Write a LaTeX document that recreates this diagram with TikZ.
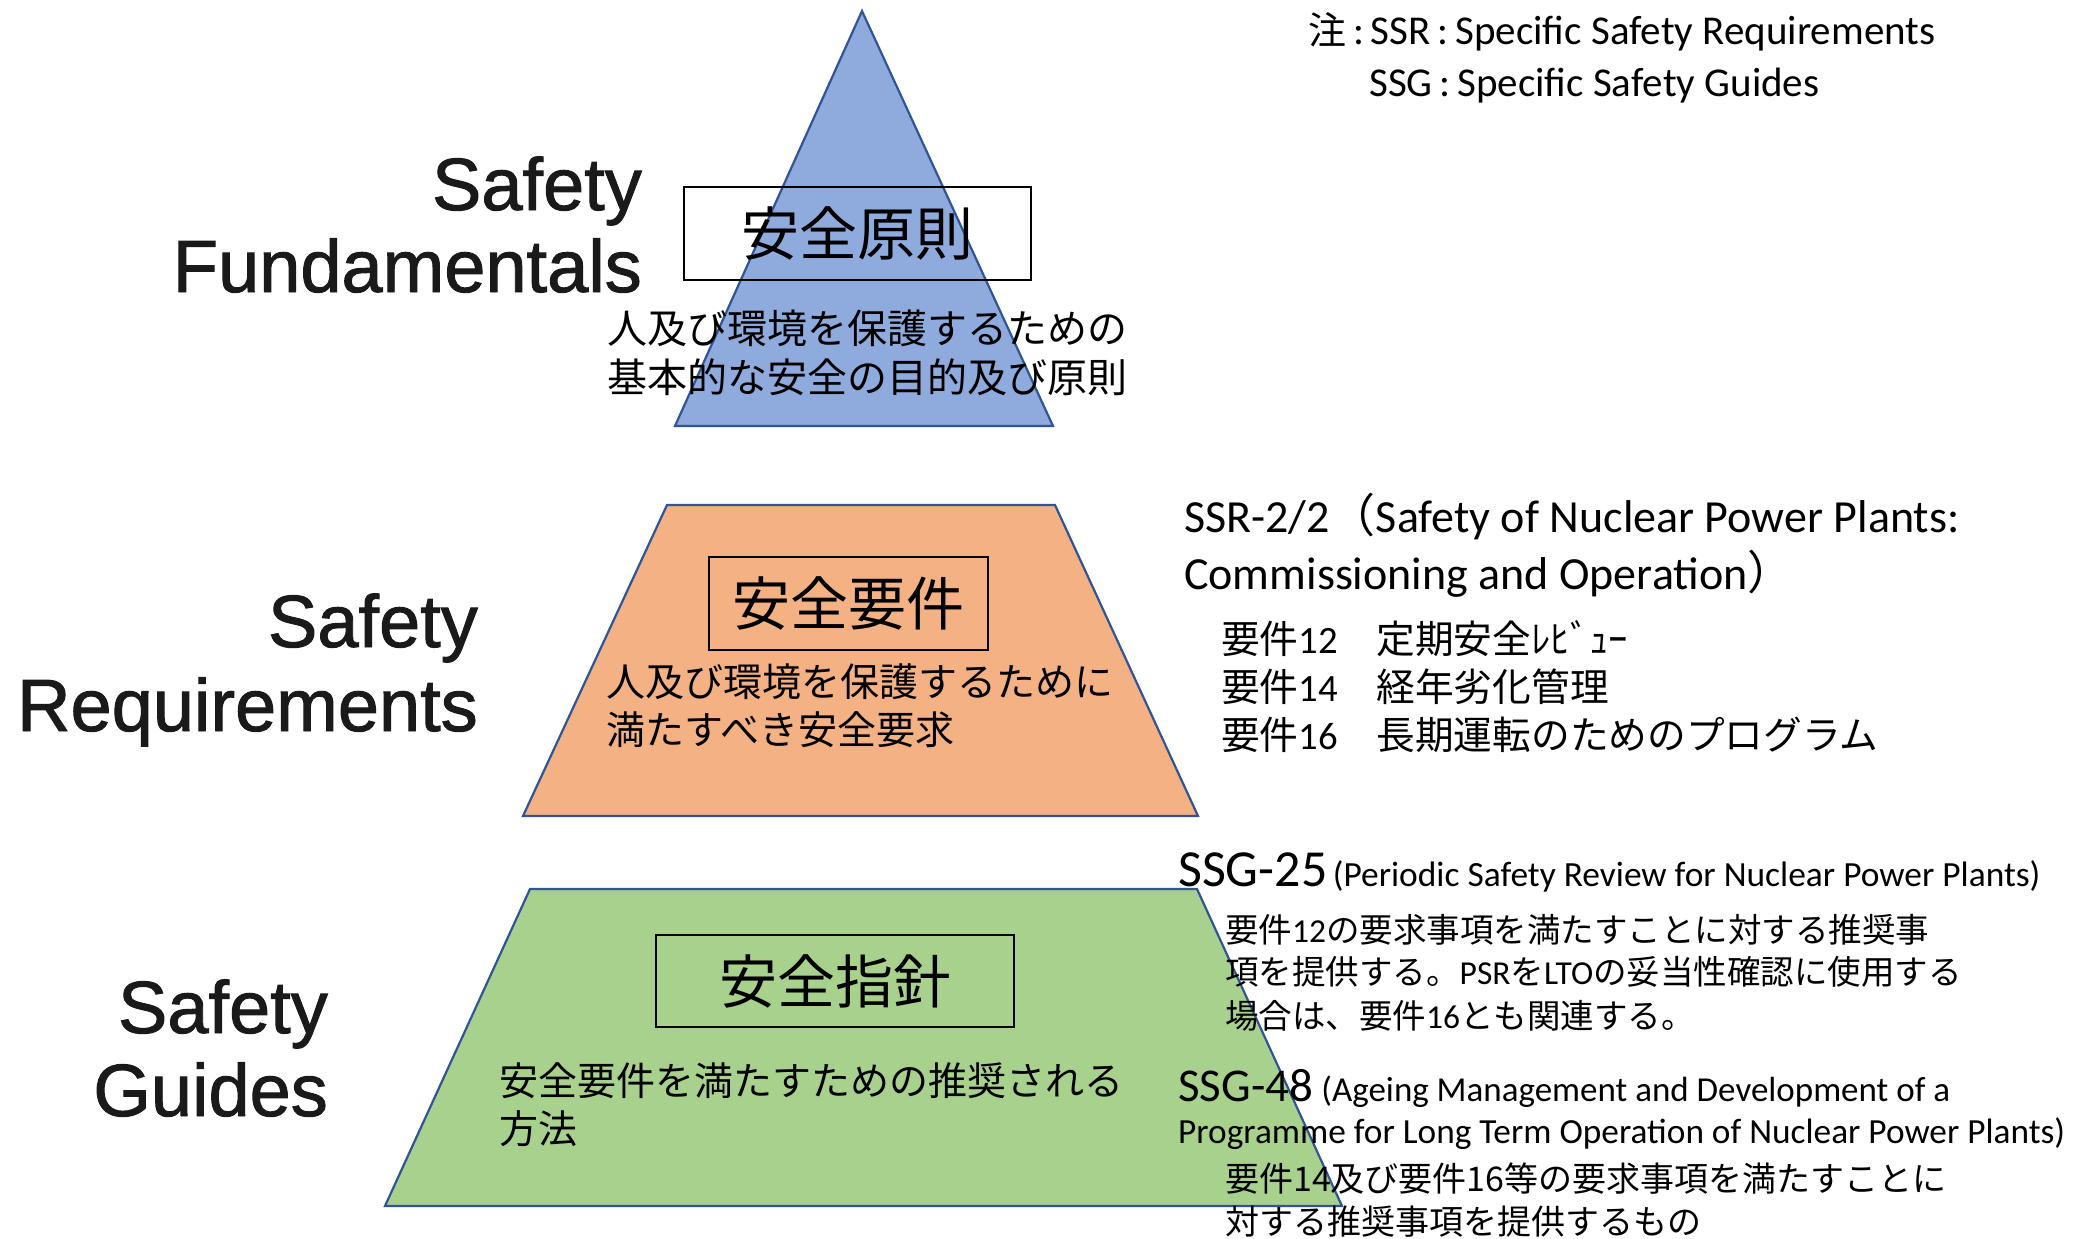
\documentclass[tikz,border=0pt]{standalone}
\usepackage{fontspec}
\setmainfont{Carlito}
\newfontfamily\jp{Noto Sans CJK JP}
\newfontfamily\hel[FakeBold=1.3]{Liberation Sans}
\definecolor{triblue}{HTML}{8FAADC}
\definecolor{edgeblue}{HTML}{2F5597}
\definecolor{orangefill}{HTML}{F4B183}
\definecolor{greenfill}{HTML}{A9D18E}
\definecolor{labelink}{HTML}{1A1A1A}
\newcommand\fs[1]{\fontsize{#1}{#1}\selectfont}
\newcommand\lt[1]{{\rmfamily #1}}
\begin{document}
\begin{tikzpicture}[x=1pt,y=-1pt,
  layer/.style={draw=edgeblue, line width=2.2pt, line join=miter},
  titlebox/.style={draw=black, line width=2pt, inner sep=0pt, font=\jp\fs{58}},
  body/.style={inner sep=0pt, anchor=base west, font=\jp\fs{40}},
  side/.style={inner sep=0pt, anchor=base east, font=\hel\fs{74}, text=labelink}]
\useasboundingbox (0,0) rectangle (2083,1239);

% pyramid layers
\filldraw[layer, fill=triblue] (862,11) -- (1053,426) -- (675,426) -- cycle;
\filldraw[layer, fill=orangefill] (667,505) -- (1055,505) -- (1198,816) -- (523,816) -- cycle;
\filldraw[layer, fill=greenfill] (530,889) -- (1197,889) -- (1342,1206) -- (385,1206) -- cycle;

% title boxes
\node[titlebox, minimum width=347pt, minimum height=93pt] (b1) at (857.5,233.5) {安全原則};
\node[titlebox, minimum width=279pt, minimum height=93pt] (b2) at (848.5,603.5) {安全要件};
\node[titlebox, minimum width=358pt, minimum height=92pt] (b3) at (835,981) {安全指針};

% left labels
\node[side] (sf1) at (642,210) {Safety};
\node[side] (sf2) at (642,292) {Fundamentals};
\node[side] (sr1) at (478,647) {Safety};
\node[side] (sr2) at (478,731) {Requirements};
\node[side] (sg1) at (328,1033) {Safety};
\node[side] (sg2) at (328,1116) {Guides};

% note
\node[body, font=\fs{41}] (note1) at (1308,45) {{\jp\fs{38}注}\,:\,SSR\,:\,Specific Safety Requirements};
\node[body, font=\fs{41}] (note2) at (1369,96) {SSG\,:\,Specific Safety Guides};

% layer descriptions
\node[body] (fd1) at (607,343) {人及び環境を保護するための};
\node[body] (fd2) at (607,392) {基本的な安全の目的及び原則};
\node[body, font=\jp\fs{39}] (rq1) at (606,696) {人及び環境を保護するために};
\node[body, font=\jp\fs{39}] (rq2) at (606,744) {満たすべき安全要求};
\node[body, font=\jp\fs{39}] (gd1) at (499,1095) {安全要件を満たすための推奨される};
\node[body, font=\jp\fs{39}] (gd2) at (499,1143) {方法};

% SSR-2/2
\node[body, font=\fs{46}] (ssr1) at (1184,532) {SSR-2/2{\jp （}Safety of Nuclear Power Plants:};
\node[body, font=\fs{46}] (ssr2) at (1184,589) {Commissioning and Operation{\jp ）}};
\node[body, font=\jp\fs{38.7}] (r12) at (1221,653) {要件\lt{12}　定期安全ﾚﾋﾞｭｰ};
\node[body, font=\jp\fs{38.7}] (r14) at (1221,701) {要件\lt{14}　経年劣化管理};
\node[body, font=\jp\fs{38.7}] (r16) at (1221,749) {要件\lt{16}　長期運転のためのプログラム};

% SSG-25
\node[body, font=\fs{52}] (s25) at (1178,886) {SSG-25};
\node[body, font=\fs{35.4}] (s25t) at ([xshift=5pt]s25.base east) {(Periodic Safety Review for Nuclear Power Plants)};
\node[body, font=\jp\fs{33.5}] (p1) at (1225,942) {要件\lt{12}の要求事項を満たすことに対する推奨事};
\node[body, font=\jp\fs{33.5}] (p2) at (1225,984) {項を提供する。\lt{PSR}を\lt{LTO}の妥当性確認に使用する};
\node[body, font=\jp\fs{33.5}] (p3) at (1225,1028) {場合は、要件\lt{16}とも関連する。};

% SSG-48
\node[body, font=\fs{47}] (s48) at (1178,1101) {SSG-48};
\node[body, font=\fs{35}] (s48t) at ([xshift=8pt]s48.base east) {(Ageing Management and Development of a};
\node[body, font=\fs{35.3}] (s48u) at (1178,1143) {Programme for Long Term Operation of Nuclear Power Plants)};
\node[body, font=\jp\fs{34}] (q1) at (1225,1191) {要件14及び要件16等の要求事項を満たすことに};
\node[body, font=\jp\fs{34}] (q2) at (1225,1234) {対する推奨事項を提供するもの};
\end{tikzpicture}
\end{document}
